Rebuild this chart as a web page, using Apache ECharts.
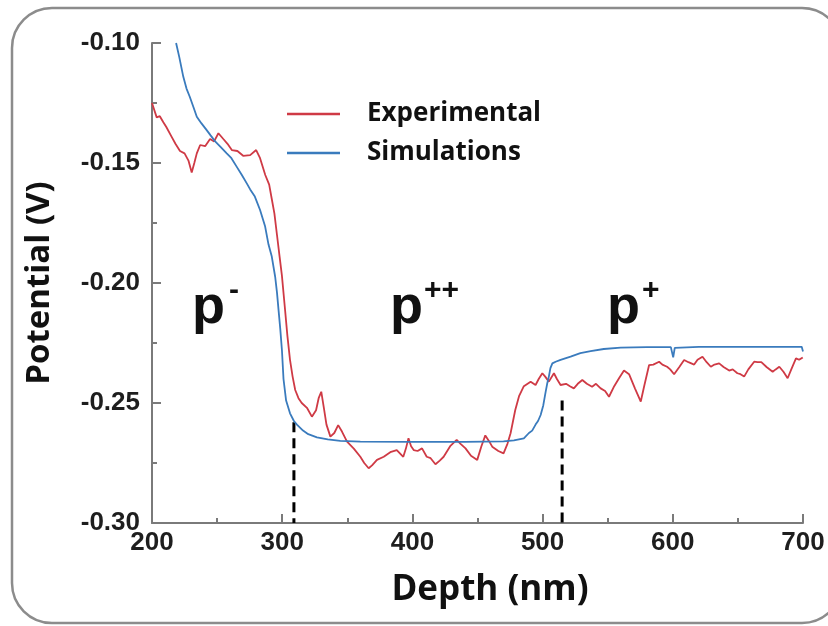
<!DOCTYPE html>
<html>
<head>
<meta charset="utf-8">
<script src="https://cdn.jsdelivr.net/npm/echarts@6/dist/echarts.min.js"></script>
<style>html,body{margin:0;padding:0;background:#fff}#c{width:828px;height:626px}</style>
</head>
<body>
<div id="c"></div>
<script>
// ---- data ----
const expDepth = [200,203.6,206,208.7,211,215,218,221.5,225,228,230.5,232.5,234.4,237,240.8,244.6,247.7,251,254.8,258,261.3,265.6,270,275.4,280,283,287,290,292,294,296,298,299.8,302,304,306,308,310,312.5,315,319,322.8,326,328,330,332,334,337,340,343,346,349.8,355,360,363,366.4,369,372.8,378,383,388,393,395,397,399,401,404,407.4,411,414,417.7,421,424,429,434,437,440.8,445,449.8,453,456,459,461.3,466,470,473,475.4,479,482,485.6,490.8,494.6,497,499.8,502,504.8,508.7,511,513.8,518,521,524,527,530.5,534,538,541,544.6,548,551,555,558.7,562.5,566.4,571,575.4,578,581.8,585,589.5,592,595.6,598,601,605,608.7,612,616.4,619,622.8,626,629.2,632,635.6,639,643.3,646,649.6,652,654.8,658,662.5,665,668,672,676.7,679,681.8,685,688.2,691,694.6,697,699.8];
const expPotential = [-0.125,-0.131,-0.1305,-0.133,-0.135,-0.139,-0.142,-0.145,-0.146,-0.149,-0.154,-0.150,-0.146,-0.1425,-0.143,-0.140,-0.141,-0.1376,-0.140,-0.142,-0.1446,-0.145,-0.147,-0.1467,-0.1446,-0.148,-0.155,-0.159,-0.165,-0.171,-0.180,-0.189,-0.197,-0.210,-0.222,-0.232,-0.239,-0.2446,-0.248,-0.250,-0.252,-0.2557,-0.253,-0.248,-0.2453,-0.252,-0.259,-0.264,-0.2625,-0.2592,-0.262,-0.2661,-0.269,-0.2724,-0.275,-0.2772,-0.276,-0.2737,-0.2724,-0.2705,-0.2696,-0.2724,-0.2690,-0.2647,-0.268,-0.2696,-0.270,-0.2689,-0.2724,-0.273,-0.2755,-0.274,-0.2724,-0.268,-0.2654,-0.267,-0.2689,-0.272,-0.2737,-0.268,-0.2635,-0.266,-0.2682,-0.270,-0.271,-0.267,-0.2626,-0.2529,-0.247,-0.2430,-0.2411,-0.2425,-0.240,-0.2376,-0.239,-0.2411,-0.2376,-0.240,-0.2425,-0.242,-0.243,-0.2439,-0.242,-0.2404,-0.242,-0.2432,-0.242,-0.2439,-0.245,-0.2474,-0.243,-0.2397,-0.2365,-0.238,-0.244,-0.2494,-0.243,-0.2342,-0.234,-0.2328,-0.234,-0.2349,-0.236,-0.238,-0.235,-0.2321,-0.233,-0.234,-0.232,-0.2307,-0.233,-0.2349,-0.234,-0.2335,-0.235,-0.2365,-0.236,-0.2376,-0.238,-0.239,-0.236,-0.2328,-0.233,-0.233,-0.235,-0.237,-0.236,-0.2349,-0.237,-0.2397,-0.236,-0.2314,-0.232,-0.231];

const simDepth = [218.5,221,224,226.5,229,232,234.4,238,242,245,248.5,253,257.4,261,265,269,272.8,275.4,279,283,286.9,289.5,292,294.6,296,297.2,298.5,299.8,301,303,306,309,311.3,316,320,326.7,335,344.6,360,400,440,470,478,485.6,489.5,492,494.6,496.5,498.5,500.5,502.3,503.5,504.8,506,507.5,510,513.8,521.5,529,536.9,547,560,580,598.5,600.3,601.5,620,660,699,700];
const simPotential = [-0.100,-0.106,-0.114,-0.119,-0.1224,-0.127,-0.1307,-0.1335,-0.1363,-0.1385,-0.141,-0.1435,-0.146,-0.148,-0.1515,-0.155,-0.1585,-0.161,-0.164,-0.1696,-0.1765,-0.184,-0.189,-0.1974,-0.204,-0.2113,-0.219,-0.228,-0.240,-0.249,-0.2543,-0.2575,-0.2590,-0.2615,-0.2630,-0.2643,-0.2652,-0.2658,-0.2661,-0.2662,-0.2662,-0.2660,-0.2656,-0.2647,-0.2625,-0.2615,-0.2590,-0.2575,-0.2550,-0.2510,-0.2455,-0.2420,-0.2390,-0.2355,-0.2335,-0.2328,-0.2320,-0.2307,-0.2292,-0.2284,-0.2275,-0.2269,-0.2267,-0.2267,-0.2310,-0.2270,-0.2266,-0.2266,-0.2266,-0.2285];

// boundary markers (depth, top potential)
const boundaryDepth = [309, 515];
const boundaryTop = [-0.258, -0.249];

// region labels
const regionBase = ['p', 'p', 'p'];
const regionSup = ['-', '++', '+'];

// axes
const xMin = 200, xMax = 700, xStep = 100;
const yMin = -0.30, yMax = -0.10, yStep = 0.05;
const seriesNames = ['Experimental', 'Simulations'];

// ---- chart ----
const RED = '#cf3a45', BLUE = '#3a7bbd';
const chart = echarts.init(document.getElementById('c'), null, {renderer: 'canvas'});
const zip = (a, b) => a.map((v, i) => [v, b[i]]);

const boundarySeries = boundaryDepth.map((d, i) => ({
  type: 'line', silent: true, symbol: 'none', z: 1,
  data: [[d, boundaryTop[i]], [d, yMin]],
  lineStyle: {color: '#000', width: 3, type: [10, 6]}
}));

const regionX = [[192, 229], [390, 424], [607, 642]];
const graphic = [{
  type: 'rect', z: -1, silent: true,
  shape: {x: 12, y: 8, width: 830, height: 615, r: 40},
  style: {fill: 'none', stroke: '#8c8c8c', lineWidth: 2.5}
}];
regionBase.forEach((b, i) => {
  graphic.push({type: 'text', x: regionX[i][0], y: 308, silent: true,
    style: {text: b, font: 'bold 54px "Liberation Sans", Arial, sans-serif', fill: '#111', verticalAlign: 'middle', align: 'left'}});
  graphic.push({type: 'text', x: regionX[i][1], y: 291, silent: true,
    style: {text: regionSup[i], font: 'bold 30px "Liberation Sans", Arial, sans-serif', fill: '#111', verticalAlign: 'middle', align: 'left'}});
});

const axisLabelStyle = {fontFamily: '"Liberation Sans", Arial, sans-serif', fontWeight: 'bold', fontSize: 26, color: '#1e1e1e'};

chart.setOption({
  animation: false,
  backgroundColor: '#fff',
  grid: {left: 152, right: 25, top: 43, bottom: 103, containLabel: false, outerBoundsMode: 'none'},
  legend: {
    data: seriesNames, orient: 'vertical', left: 282, top: 96, itemGap: 13,
    icon: 'rect', itemWidth: 53, itemHeight: 2.5,
    textStyle: {fontFamily: '"Open Sans", sans-serif', fontWeight: 'bold', fontSize: 26, lineHeight: 26, color: '#111', padding: [0, 0, 0, 22]}
  },
  xAxis: {
    type: 'value', min: xMin, max: xMax, interval: xStep,
    name: 'Depth (nm)', nameLocation: 'middle', nameGap: 50,
    nameTextStyle: {fontFamily: '"Open Sans", sans-serif', fontWeight: 'bold', fontSize: 35, color: '#111', padding: [0, 0, 0, 25]},
    axisLine: {lineStyle: {color: '#7a7a7a', width: 2}},
    axisTick: {inside: true, length: 9, lineStyle: {color: '#7a7a7a', width: 2}},
    minorTick: {show: true, splitNumber: 2, length: 5, lineStyle: {color: '#7a7a7a', width: 2}},
    splitLine: {show: false},
    axisLabel: Object.assign({margin: 7}, axisLabelStyle)
  },
  yAxis: {
    type: 'value', min: yMin, max: yMax, interval: yStep,
    name: 'Potential (V)', nameLocation: 'middle', nameGap: 96, nameRotate: 90,
    nameTextStyle: {fontFamily: '"Open Sans", sans-serif', fontWeight: 'bold', fontSize: 33, color: '#111'},
    axisLine: {show: true, lineStyle: {color: '#7a7a7a', width: 2}},
    axisTick: {show: true, inside: true, length: 9, lineStyle: {color: '#7a7a7a', width: 2}},
    minorTick: {show: true, splitNumber: 2, length: 5, lineStyle: {color: '#7a7a7a', width: 2}},
    splitLine: {show: false},
    axisLabel: Object.assign({margin: 12, formatter: v => v.toFixed(2)}, axisLabelStyle)
  },
  series: [
    {name: 'Experimental', type: 'line', showSymbol: false, symbol: 'none', z: 3,
     data: zip(expDepth, expPotential), color: RED, lineStyle: {color: RED, width: 1.8}},
    {name: 'Simulations', type: 'line', showSymbol: false, symbol: 'none', z: 4,
     data: zip(simDepth, simPotential), color: BLUE, lineStyle: {color: BLUE, width: 1.8}}
  ].concat(boundarySeries),
  graphic: graphic
});
</script>
</body>
</html>
